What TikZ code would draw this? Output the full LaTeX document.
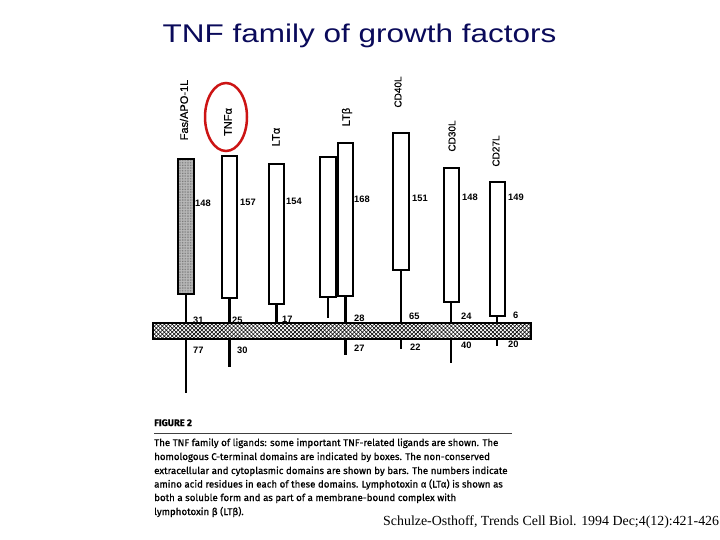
\documentclass[tikz,border=0pt]{standalone}
\usepackage{fontspec}
\setmainfont{Liberation Sans}
\newfontfamily\capfont[FakeBold=0.7]{Fira Sans}
\newfontfamily\labfont[FakeBold=0.6]{Liberation Sans}
\newfontfamily\citefont{Liberation Serif}
\usetikzlibrary{patterns,patterns.meta,shapes.geometric}
\definecolor{titlenavy}{RGB}{10,10,90}
\definecolor{ringred}{RGB}{204,20,20}
\begin{document}
\begin{tikzpicture}[x=1pt,y=-1pt,
  dombox/.style={draw=black,line width=2pt,fill=white,inner sep=0pt,minimum width=15pt},
  stem/.style={line width=2.6pt,draw=black},
  num/.style={font=\bfseries\fontsize{9.3}{10}\selectfont,anchor=west,inner sep=0pt},
  lig/.style={font=\labfont\fontsize{11}{12}\selectfont,rotate=90,inner sep=0pt},
  ligsm/.style={font=\labfont\fontsize{10}{11}\selectfont,rotate=90,inner sep=0pt},
  capline/.style={font=\capfont\fontsize{9.7}{11}\selectfont,anchor=base west,inner sep=0pt}]
\useasboundingbox (0,0) rectangle (720,540);
\fill[white] (0,0) rectangle (720,540);

% title
\node[font=\fontsize{25.6}{28}\selectfont,text=titlenavy,anchor=base,inner sep=0pt] (title) at (359.5,43) {\scalebox{1.23}[1]{TNF family of growth factors}};

% domain boxes
\node[dombox,minimum width=16pt,minimum height=135pt,preaction={fill=gray!55},pattern={Dots[radius=0.35pt,distance=1.6pt]},pattern color=black!70] (fas) at (186,226.5) {};
\node[dombox,minimum height=142pt] (tnfa) at (229.5,227) {};
\node[dombox,minimum height=140pt] (lta) at (276.5,234) {};
\node[dombox,minimum width=16pt,minimum height=140pt] (ltbl) at (328,227) {};
\node[dombox,minimum height=153pt] (ltbr) at (345.5,219.5) {};
\node[dombox,minimum width=16pt,minimum height=137pt] (cd40) at (401,201.5) {};
\node[dombox,minimum height=134pt] (cd30) at (451,235) {};
\node[dombox,minimum height=134pt] (cd27) at (497,249) {};

% stem ends
\coordinate (fasE) at (186,393);
\coordinate (tnfaE) at (229.5,367);
\coordinate (ltaE) at (276.5,322);
\coordinate (ltblE) at (328,318);
\coordinate (ltbrE) at (345.5,355);
\coordinate (cd40E) at (401,349);
\coordinate (cd30E) at (451,363);
\coordinate (cd27E) at (497,346);
\draw[stem] (fas) -- (fasE);
\draw[stem] (tnfa) -- (tnfaE);
\draw[stem] (lta) -- (ltaE);
\draw[stem] (ltbl) -- (ltblE);
\draw[stem] (ltbr) -- (ltbrE);
\draw[stem] (cd40) -- (cd40E);
\draw[stem] (cd30) -- (cd30E);
\draw[stem] (cd27) -- (cd27E);

% membrane
\node[draw=black,line width=1.5pt,inner sep=0pt,minimum width=378pt,minimum height=16pt,
  preaction={fill=white},
  pattern={Lines[angle=45,distance=2.8pt,line width=0.55pt]},
  postaction={pattern={Lines[angle=-45,distance=2.8pt,line width=0.55pt]}}] (membrane) at (342,331) {};

% ligand names
\node[lig] (nfas) at (184,110) {Fas/APO-1L};
\node[lig] (ntnf) at (228,122) {TNFα};
\node[lig] (nlta) at (276,137) {LTα};
\node[lig] (nltb) at (347,117) {LTβ};
\node[ligsm] (ncd40) at (398,92) {CD40L};
\node[ligsm] (ncd30) at (452,136) {CD30L};
\node[ligsm] (ncd27) at (496,151) {CD27L};
\node[draw=ringred,line width=2.5pt,ellipse,inner sep=0pt,minimum width=42pt,minimum height=68pt] (ring) at (226,117) {};

% C-terminal lengths
\node[num] (a1) at (195,203) {148};
\node[num] (a2) at (240,202) {157};
\node[num] (a3) at (286,201) {154};
\node[num] (a4) at (354,199) {168};
\node[num] (a5) at (412,198) {151};
\node[num] (a6) at (462,197) {148};
\node[num] (a7) at (508,197) {149};
% extracellular
\node[num] (b1) at (193,320) {31};
\node[num] (b2) at (232,320) {25};
\node[num] (b3) at (282,319) {17};
\node[num] (b4) at (354,318) {28};
\node[num] (b5) at (409,316) {65};
\node[num] (b6) at (461,316) {24};
\node[num] (b7) at (513,315) {6};
% cytoplasmic
\node[num] (c1) at (193,350) {77};
\node[num] (c2) at (237,350) {30};
\node[num] (c4) at (354,348) {27};
\node[num] (c5) at (410,347) {22};
\node[num] (c6) at (461,345) {40};
\node[num] (c7) at (508,344) {20};

% caption
\node[font=\capfont\fontsize{9.5}{10}\selectfont,anchor=base west,inner sep=0pt] (fig) at (154,426) {\textbf{FIGURE 2}};
\coordinate (ruleL) at (154,433);
\coordinate (ruleR) at (512,433);
\draw[line width=0.8pt,black!75] (ruleL) -- (ruleR);
\node[capline] (l1) at (154,446) {The TNF family of ligands: some important TNF-related ligands are shown. The};
\node[capline] (l2) at (154,460) {homologous C-terminal domains are indicated by boxes. The non-conserved};
\node[capline] (l3) at (154,474) {extracellular and cytoplasmic domains are shown by bars. The numbers indicate};
\node[capline] (l4) at (154,487.5) {amino acid residues in each of these domains. Lymphotoxin α (LTα) is shown as};
\node[capline] (l5) at (154,501) {both a soluble form and as part of a membrane-bound complex with};
\node[capline] (l6) at (154,515) {lymphotoxin β (LTβ).};

% citation
\node[font=\citefont\fontsize{13.9}{15}\selectfont,anchor=base west,inner sep=0pt] (cite) at (383,525) {Schulze-Osthoff, Trends Cell Biol. 1994 Dec;4(12):421-426};
\end{tikzpicture}
\end{document}
